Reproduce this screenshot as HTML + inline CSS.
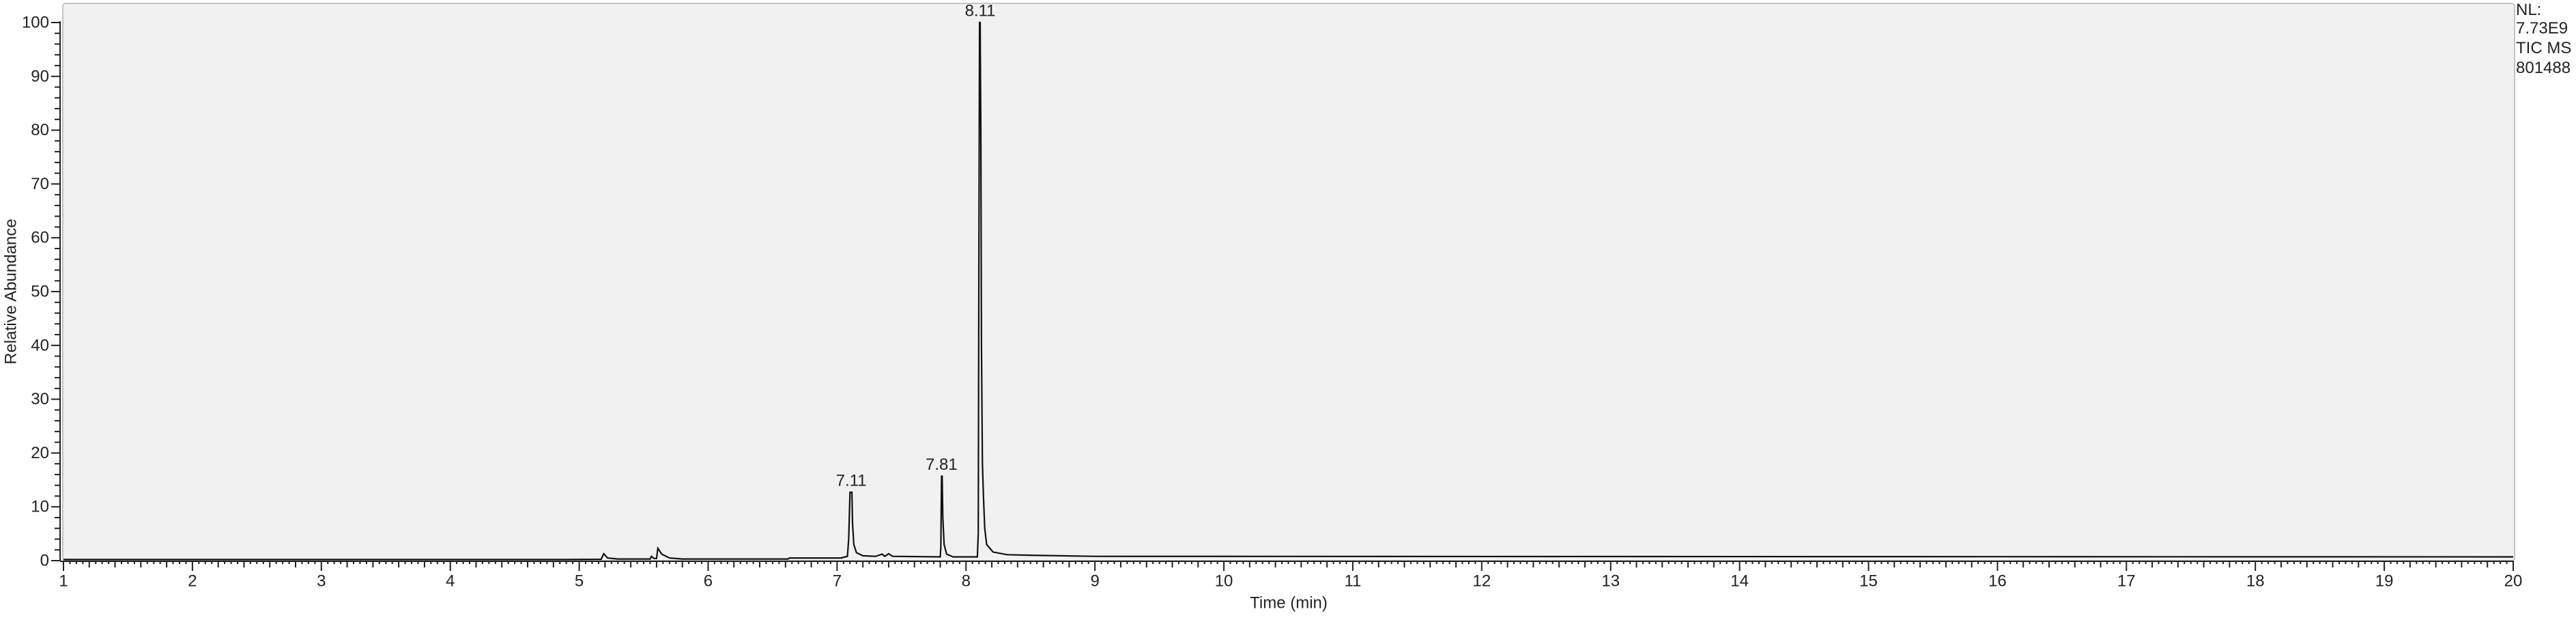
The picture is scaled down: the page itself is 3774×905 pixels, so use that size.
<!DOCTYPE html>
<html><head><meta charset="utf-8"><style>
html,body{margin:0;padding:0;background:#fff;}
svg{display:block;font-family:"Liberation Sans",sans-serif;}
</style></head><body>
<svg id="chart" width="3774" height="905" viewBox="0 0 3774 905" xmlns="http://www.w3.org/2000/svg">
<rect x="92" y="5" width="3592" height="816" rx="4" fill="#f1f1f1" stroke="#c4c4c4" stroke-width="2"/>
<g id="axes"></g>
<g id="trace"></g>
<g id="labels"></g>
<text x="16" y="427" transform="rotate(-90 16 427)" text-anchor="middle" dominant-baseline="central" font-size="24" fill="#222">Relative Abundance</text>
<text x="1888" y="883" text-anchor="middle" dominant-baseline="central" font-size="24" fill="#222">Time (min)</text>
<g font-size="24" fill="#222">
<text x="3686" y="22">NL:</text>
<text x="3686" y="49">7.73E9</text>
<text x="3686" y="78">TIC  MS</text>
<text x="3686" y="107">801488</text>
</g>
</svg>
<script>
const times = [1.0,4.9,5.17,5.19,5.22,5.3,5.55,5.56,5.58,5.6,5.61,5.64,5.7,5.8,6.62,6.63,7.03,7.08,7.09,7.10,7.115,7.12,7.13,7.15,7.2,7.3,7.35,7.37,7.4,7.43,7.8,7.805,7.81,7.815,7.82,7.83,7.85,7.9,8.088,8.095,8.1,8.105,8.11,8.115,8.12,8.127,8.135,8.145,8.16,8.21,8.32,8.5,9.0,20.0];
const values = [0.2,0.2,0.25,1.3,0.5,0.3,0.3,0.8,0.4,0.4,2.3,1.2,0.5,0.3,0.3,0.5,0.5,0.8,4,12.7,12.7,7,3,1.5,0.9,0.8,1.2,0.8,1.3,0.8,0.7,2.5,15.7,15.7,8,3,1.2,0.7,0.7,5,60,100,100,80,40,18,12,6,3,1.6,1.1,1.0,0.8,0.7];
const peakTimes = [7.11, 7.81, 8.11];
const peakValues = [12.7, 15.7, 100];
const peakLabels = ["7.11", "7.81", "8.11"];
const xTicks = [1,2,3,4,5,6,7,8,9,10,11,12,13,14,15,16,17,18,19,20];
const yTicks = [0,10,20,30,40,50,60,70,80,90,100];

const NS = "http://www.w3.org/2000/svg";
const X0=93, X1=3682, Y0=821, Y100=33;
const xs = t => X0 + (t-1)/(20-1)*(X1-X0);
const ys = v => Y0 - v/100*(Y0-Y100);
function mk(tag, attrs, parent){const e=document.createElementNS(NS,tag);for(const k in attrs)e.setAttribute(k,attrs[k]);parent.appendChild(e);return e;}

const axes=document.getElementById('axes');
const yAxis=mk('line',{x1:88,y1:Y100-2,x2:88,y2:Y0+1,stroke:'#222','stroke-width':2},axes);


const xAxis=mk('line',{x1:88,y1:Y0+1,x2:X1+1,y2:Y0+1,stroke:'#222','stroke-width':2},axes);


for(let v=0;v<=100;v+=2){
  const major=v%10===0;
  const l=mk('line',{x1:major?75:80,y1:ys(v),x2:88,y2:ys(v),stroke:'#222','stroke-width':2},axes);
  
  
}
yTicks.forEach(v=>{
  const t=mk('text',{x:72,y:ys(v),'text-anchor':'end','dominant-baseline':'central','font-size':24,fill:'#222'},axes);
  t.textContent=v;
  
  
});
for(let i=0;i<=380;i++){
  const t=1+i*0.05;
  const major=i%20===0, med=i%4===0;
  const l=mk('line',{x1:xs(t),y1:Y0+1,x2:xs(t),y2:major?836:(med?831:826),stroke:'#222','stroke-width':2},axes);
  
  
}
xTicks.forEach(v=>{
  const t=mk('text',{x:xs(v),y:851,'text-anchor':'middle','dominant-baseline':'central','font-size':24,fill:'#222'},axes);
  t.textContent=v;
  
  
});

const trace=document.getElementById('trace');
let d='';
times.forEach((t,i)=>{d+=(i?'L':'M')+xs(t).toFixed(1)+' '+ys(values[i]).toFixed(1);});
const p=mk('path',{d:d,fill:'none',stroke:'#111','stroke-width':2.2,'stroke-linejoin':'miter'},trace);



const labels=document.getElementById('labels');
peakTimes.forEach((t,i)=>{
  const e=mk('text',{x:xs(t),y:ys(peakValues[i])-17,'text-anchor':'middle','dominant-baseline':'central','font-size':24,fill:'#222'},labels);
  e.textContent=peakLabels[i];
  
  
});
</script>
</body></html>
